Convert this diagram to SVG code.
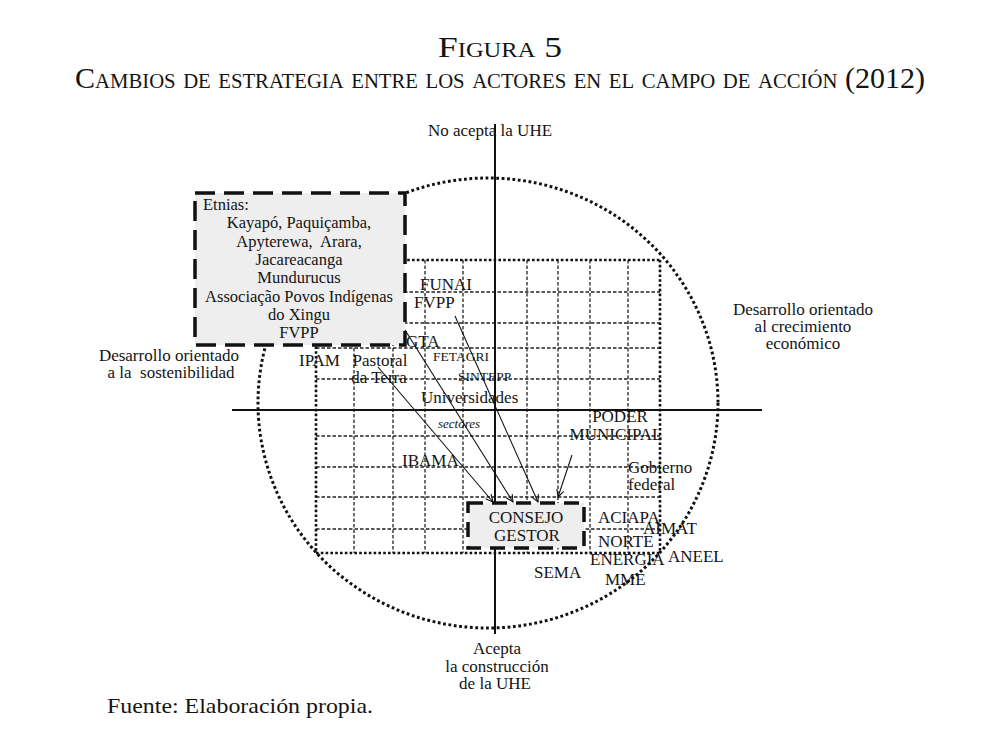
<svg xmlns="http://www.w3.org/2000/svg" width="1000" height="744" viewBox="0 0 1000 744">
<defs>
<style>
text{font-family:"Liberation Serif","Times New Roman",serif;fill:#141414;}
.t{font-size:29px;font-variant:small-caps;}
.l{font-size:17px;}
.m{font-size:16.5px;}
.s{font-size:13.5px;}
.it{font-size:13px;font-style:italic;}
.c{text-anchor:middle;}
.axis{stroke:#111;stroke-width:2;fill:none;}
.gb{stroke:#111;stroke-width:2.6;stroke-dasharray:2.6 2.2;fill:none;}
.gi{stroke:#222;stroke-width:1.3;stroke-dasharray:3.5 2;fill:none;}
.circ{stroke:#111;stroke-width:3;stroke-dasharray:2.8 2.6;fill:none;}
.box{fill:#eeeeee;stroke:#111;stroke-width:3.5;stroke-dasharray:20 9;}
.box2{fill:#eeeeee;stroke:#111;stroke-width:3.5;stroke-dasharray:15 9;}
.arr{stroke:#111;stroke-width:1.1;fill:none;marker-end:url(#ah);}
</style>
<marker id="ah" viewBox="0 0 10 10" refX="9" refY="5" markerWidth="9" markerHeight="9" orient="auto" markerUnits="userSpaceOnUse">
<path d="M1,1 L9,5 L1,9" fill="none" stroke="#111" stroke-width="1.2"/>
</marker>
</defs>
<rect width="1000" height="744" fill="#fff"/>

<g id="title">
<text class="t c" x="500" y="57" textLength="124" lengthAdjust="spacingAndGlyphs">Figura 5</text>
<text class="t c" x="500" y="88" textLength="850" lengthAdjust="spacingAndGlyphs">Cambios de estrategia entre los actores en el campo de acción (2012)</text>
</g>

<g id="circle">
<ellipse class="circ" cx="488" cy="403" rx="230" ry="225"/>
</g>

<g id="grid">
<g class="gi">
<line x1="316" y1="292" x2="660" y2="292"/>
<line x1="316" y1="323" x2="660" y2="323"/>
<line x1="316" y1="348" x2="660" y2="348"/>
<line x1="316" y1="379" x2="660" y2="379"/>
<line x1="316" y1="436" x2="660" y2="436"/>
<line x1="316" y1="467" x2="660" y2="467"/>
<line x1="316" y1="497" x2="660" y2="497"/>
<line x1="316" y1="529" x2="660" y2="529"/>
<line x1="354" y1="260" x2="354" y2="553"/>
<line x1="393" y1="260" x2="393" y2="553"/>
<line x1="425" y1="260" x2="425" y2="553"/>
<line x1="463" y1="260" x2="463" y2="553"/>
<line x1="527" y1="260" x2="527" y2="553"/>
<line x1="558" y1="260" x2="558" y2="553"/>
<line x1="590" y1="260" x2="590" y2="553"/>
<line x1="628" y1="260" x2="628" y2="553"/>
</g>
<g class="gb">
<line x1="316" y1="260" x2="660" y2="260"/>
<line x1="316" y1="553" x2="660" y2="553"/>
<line x1="316" y1="260" x2="316" y2="553"/>
<line x1="660" y1="260" x2="660" y2="553"/>
</g>
</g>

<g id="axes">
<line class="axis" x1="232" y1="410" x2="762" y2="410"/>
<line class="axis" x1="495" y1="124" x2="495" y2="634"/>
</g>

<g id="node-etnias">
<rect class="box" x="195" y="193" width="210" height="152"/>
<text class="m" x="203" y="210">Etnias:</text>
<text class="m c" x="299" y="228">Kayapó, Paquiçamba,</text>
<text class="m c" x="299" y="247" xml:space="preserve">Apyterewa,  Arara,</text>
<text class="m c" x="299" y="265">Jacareacanga</text>
<text class="m c" x="299" y="283">Mundurucus</text>
<text class="m c" x="299" y="302">Associação Povos Indígenas</text>
<text class="m c" x="299" y="320">do Xingu</text>
<text class="m c" x="299" y="338">FVPP</text>
</g>

<g id="node-consejo">
<rect class="box2" x="468" y="503" width="116" height="45"/>
<text class="l c" x="526" y="523">CONSEJO</text>
<text class="l c" x="527" y="541">GESTOR</text>
</g>

<g id="connectors">
<line class="arr" x1="378" y1="367" x2="493" y2="502"/>
<line class="arr" x1="405" y1="330" x2="513" y2="502"/>
<line class="arr" x1="455" y1="316" x2="538" y2="502"/>
<line class="arr" x1="572" y1="455" x2="558" y2="497"/>
</g>

<g id="labels-axes">
<text class="l c" x="490" y="136">No acepta la UHE</text>
<text class="l c" x="169" y="361">Desarrollo orientado</text>
<text class="l c" x="171" y="378" xml:space="preserve">a la  sostenibilidad</text>
<text class="l c" x="803" y="315">Desarrollo orientado</text>
<text class="l c" x="803" y="332">al crecimiento</text>
<text class="l c" x="803" y="349">económico</text>
<text class="l c" x="497" y="654">Acepta</text>
<text class="l c" x="497" y="672">la construcción</text>
<text class="l c" x="495" y="689">de la UHE</text>
</g>

<g id="actors">
<text id="funai" class="l" x="420" y="290">FUNAI</text>
<text id="fvpp" class="l" x="414" y="308">FVPP</text>
<text id="gta" class="l" x="406" y="347">GTA</text>
<text id="fetagri" class="s" x="433" y="361">FETAGRI</text>
<text id="ipam" class="l" x="299" y="366">IPAM</text>
<text id="pastoral" class="l c" x="380" y="366">Pastoral</text>
<text id="daterra" class="l c" x="379" y="383">da Terra</text>
<text id="sintepp" class="s" x="458" y="381">SINTEPP</text>
<text id="universidades" class="l" x="421" y="403">Universidades</text>
<text id="sectores" class="it" x="438" y="428">sectores</text>
<text id="poder" class="l c" x="620" y="422">PODER</text>
<text id="municipal" class="l c" x="616" y="440">MUNICIPAL</text>
<text id="ibama" class="l" x="402" y="466">IBAMA</text>
<text id="gobierno" class="l" x="628" y="473">Gobierno</text>
<text id="federal" class="l" x="628" y="490">federal</text>
<text id="aciapa" class="l" x="598" y="523">ACIAPA</text>
<text id="aimat" class="l" x="643" y="534">AIMAT</text>
<text id="norte" class="l" x="598" y="547">NORTE</text>
<text id="energia" class="l" x="590" y="565">ENERGIA</text>
<text id="aneel" class="l" x="668" y="562">ANEEL</text>
<text id="sema" class="l" x="534" y="578">SEMA</text>
<text id="mme" class="l" x="605" y="585">MME</text>
</g>

<g id="source">
<text x="107" y="713" style="font-size:22px" textLength="266" lengthAdjust="spacingAndGlyphs">Fuente: Elaboración propia.</text>
</g>
</svg>
